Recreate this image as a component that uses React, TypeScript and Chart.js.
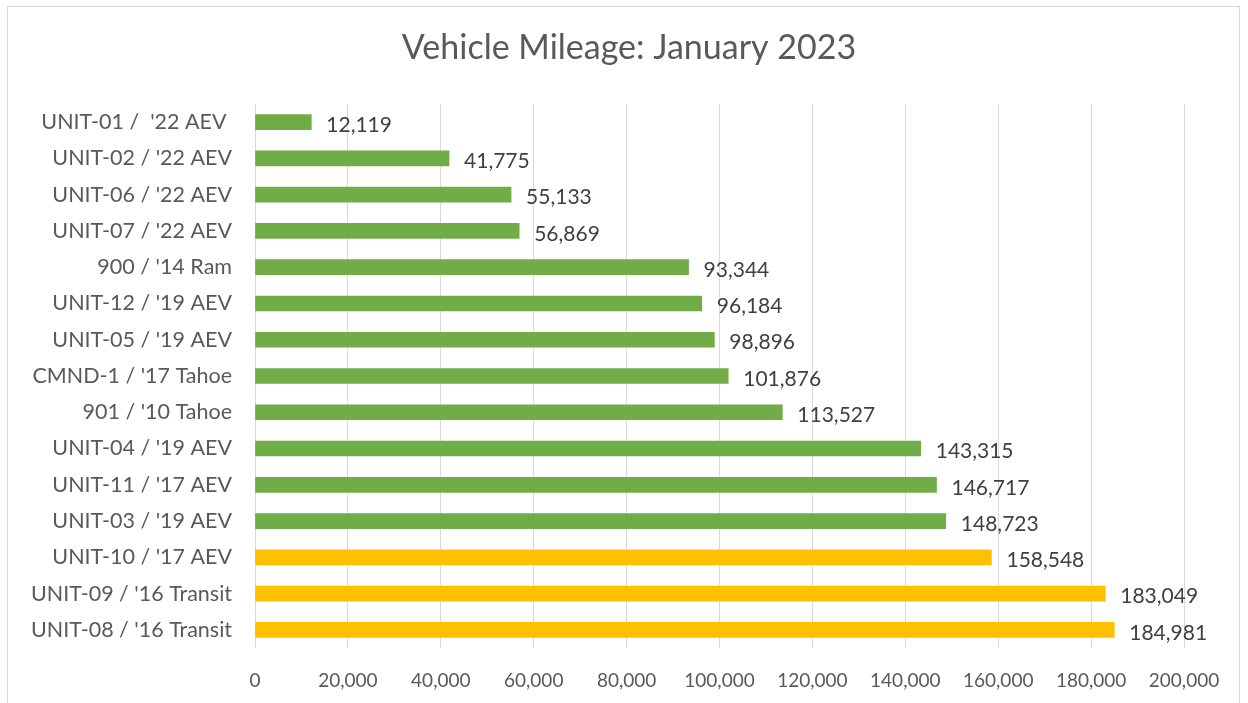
import React, { useEffect, useRef } from "react";
import { Chart, registerables } from "chart.js";

Chart.register(...registerables);

const chartTitle = "Vehicle Mileage: January 2023";
const vehicles = [
  "UNIT-01 /  '22 AEV ",
  "UNIT-02 / '22 AEV",
  "UNIT-06 / '22 AEV",
  "UNIT-07 / '22 AEV",
  "900 / '14 Ram",
  "UNIT-12 / '19 AEV",
  "UNIT-05 / '19 AEV",
  "CMND-1 / '17 Tahoe",
  "901 / '10 Tahoe",
  "UNIT-04 / '19 AEV",
  "UNIT-11 / '17 AEV",
  "UNIT-03 / '19 AEV",
  "UNIT-10 / '17 AEV",
  "UNIT-09 / '16 Transit",
  "UNIT-08 / '16 Transit",
];
const mileage = [
  12119, 41775, 55133, 56869, 93344, 96184, 98896, 101876, 113527, 143315,
  146717, 148723, 158548, 183049, 184981,
];
const axisMin = 0;
const axisMax = 200000;
const axisStep = 20000;
const highMileageThreshold = 150000;

const GREEN = "#70AD47";
const YELLOW = "#FFC000";
const FONT = "Lato, 'Open Sans', sans-serif";

const fmt = (v: number) => v.toLocaleString("en-US");

const valueLabels = {
  id: "valueLabels",
  afterDatasetsDraw(chart: any) {
    const ctx = chart.ctx;
    const meta = chart.getDatasetMeta(0);
    ctx.save();
    ctx.font = `21px ${FONT}`;
    ctx.fillStyle = "#404040";
    ctx.textAlign = "left";
    ctx.textBaseline = "middle";
    meta.data.forEach((bar: any, i: number) => {
      const v = chart.data.datasets[0].data[i];
      ctx.fillText(fmt(v), bar.x + 15, bar.y + 3);
    });
    ctx.restore();
  },
};

const titlePlugin = {
  id: "customTitle",
  afterDraw(chart: any) {
    const ctx = chart.ctx;
    ctx.save();
    ctx.font = `34px ${FONT}`;
    ctx.fillStyle = "#595959";
    ctx.textAlign = "center";
    ctx.textBaseline = "alphabetic";
    ctx.fillText(chartTitle, 629, 59);
    ctx.restore();
  },
};

export default function App() {
  const ref = useRef<HTMLCanvasElement | null>(null);
  useEffect(() => {
    if (!ref.current) return;
    const chart = new Chart(ref.current, {
      type: "bar",
      data: {
        labels: vehicles,
        datasets: [
          {
            data: mileage,
            backgroundColor: mileage.map((v) =>
              v > highMileageThreshold ? YELLOW : GREEN
            ),
            barThickness: 15,
          },
        ],
      },
      options: {
        indexAxis: "y",
        animation: false,
        responsive: false,
        layout: { padding: { left: 0, right: 64, top: 104, bottom: 0 } },
        plugins: {
          legend: { display: false },
          tooltip: { enabled: false },
          title: { display: false },
        },
        scales: {
          x: {
            min: axisMin,
            max: axisMax,
            ticks: {
              stepSize: axisStep,
              color: "#595959",
              font: { family: FONT, size: 19 },
              padding: 21,
              callback: (v: any) => fmt(Number(v)),
            },
            grid: { color: "#d9d9d9", drawTicks: false },
            border: { display: false },
            afterFit: (scale: any) => {
              scale.height = 55;
            },
          },
          y: {
            ticks: {
              color: "#595959",
              font: { family: FONT, size: 21.5 },
              padding: 23,
              autoSkip: false,
            },
            grid: { display: false, drawTicks: false },
            border: { display: false },
            afterFit: (scale: any) => {
              scale.width = 255;
            },
          },
        },
      },
      plugins: [valueLabels, titlePlugin],
    } as any);
    return () => chart.destroy();
  }, []);

  return (
    <div
      style={{
        position: "fixed",
        left: 0,
        top: 0,
        width: 1248,
        height: 703,
        background: "#fff",
      }}
    >
      <div
        style={{
          position: "absolute",
          left: 7,
          top: 6,
          width: 1233,
          height: 720,
          border: "1px solid #d9d9d9",
          boxSizing: "border-box",
        }}
      />
      <canvas
        ref={ref}
        width={1248}
        height={703}
        style={{ position: "absolute", left: 0, top: 0 }}
      />
    </div>
  );
}
